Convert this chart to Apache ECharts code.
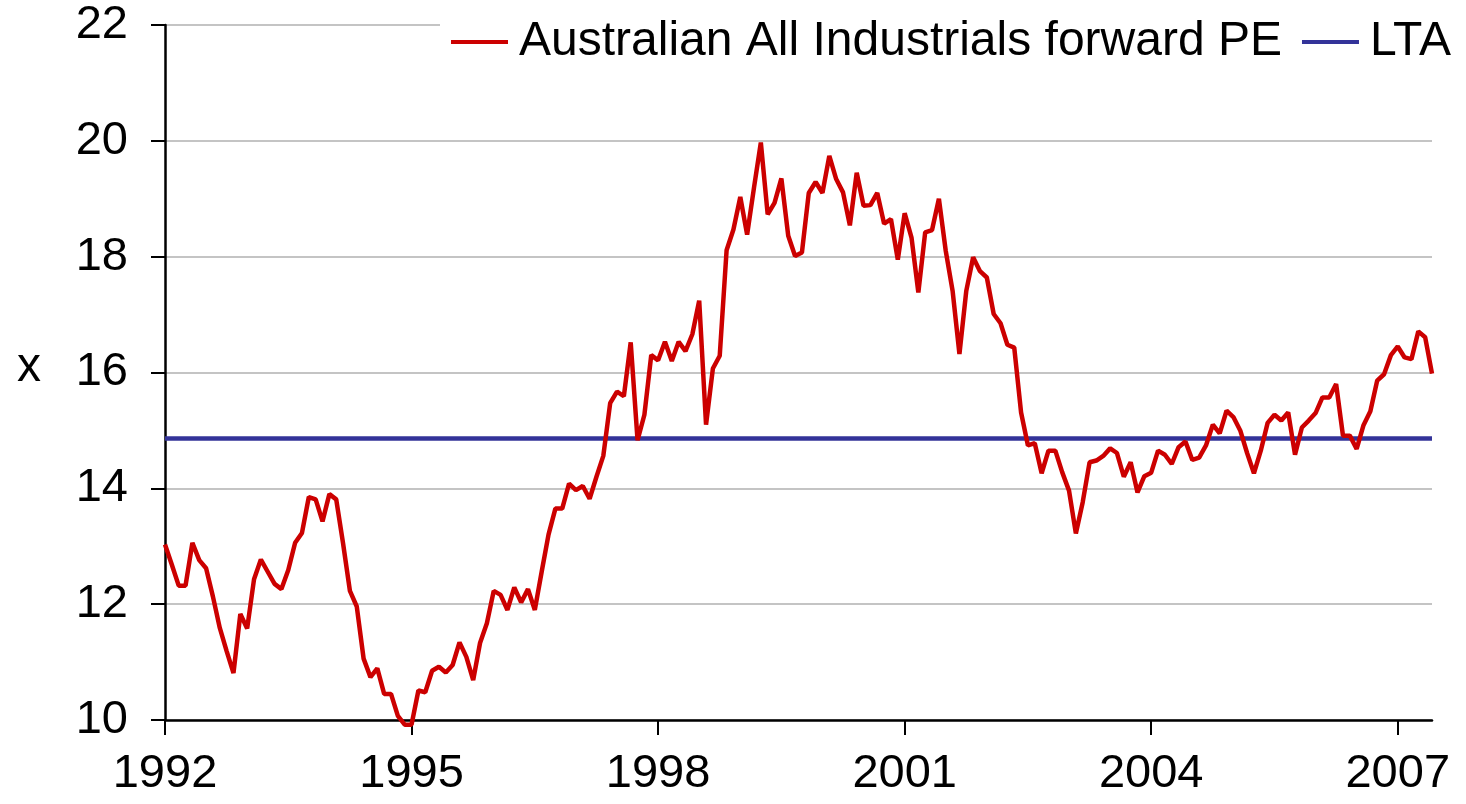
<!DOCTYPE html>
<html style="height: 100%">
   <head>
       <meta charset="utf-8">
       <script src="https://cdn.jsdelivr.net/npm/echarts@6/dist/echarts.min.js"></script>
       <title>Australian All Industrials forward PE</title>
   </head>
   <body style="height: 100%; margin: 0; background: #fff">
       <div id="container" style="width: 1466px; height: 804px"></div>
       <script type="text/javascript">

// monthly readings, Jan 1992 .. Jun 2007
let pe = [
    13.03, 12.68, 12.32, 12.32, 13.06, 12.76, 12.62, 12.13, 11.59, 11.19,
    10.81, 11.83, 11.58, 12.43, 12.77, 12.56, 12.35, 12.26, 12.59, 13.06,
    13.23, 13.85, 13.81, 13.43, 13.90, 13.81, 13.05, 12.23, 11.96, 11.06,
    10.74, 10.89, 10.45, 10.45, 10.07, 9.92, 9.92, 10.51, 10.48, 10.85,
    10.92, 10.82, 10.95, 11.34, 11.09, 10.69, 11.33, 11.67, 12.23, 12.16,
    11.90, 12.29, 12.03, 12.26, 11.90, 12.56, 13.20, 13.65, 13.65, 14.08,
    13.97, 14.04, 13.82, 14.20, 14.56, 15.47, 15.67, 15.59, 16.52, 14.83,
    15.27, 16.30, 16.21, 16.53, 16.20, 16.53, 16.37, 16.66, 17.24, 15.10,
    16.07, 16.29, 18.11, 18.47, 19.03, 18.38, 19.19, 19.97, 18.73, 18.93,
    19.35, 18.36, 18.01, 18.07, 19.10, 19.29, 19.10, 19.74, 19.34, 19.11,
    18.54, 19.45, 18.88, 18.89, 19.10, 18.57, 18.65, 17.95, 18.75, 18.33,
    17.38, 18.42, 18.46, 19.00, 18.10, 17.41, 16.32, 17.41, 17.99, 17.75,
    17.64, 17.01, 16.85, 16.48, 16.43, 15.31, 14.74, 14.78, 14.26, 14.65,
    14.65, 14.28, 13.96, 13.22, 13.76, 14.45, 14.48, 14.56, 14.69, 14.61,
    14.20, 14.45, 13.93, 14.21, 14.27, 14.65, 14.58, 14.42, 14.71, 14.81,
    14.49, 14.53, 14.74, 15.10, 14.95, 15.34, 15.23, 15.00, 14.61, 14.26,
    14.65, 15.13, 15.27, 15.17, 15.31, 14.58, 15.05, 15.17, 15.30, 15.57,
    15.57, 15.80, 14.91, 14.91, 14.68, 15.09, 15.33, 15.86, 15.97, 16.30,
    16.45, 16.26, 16.23, 16.71, 16.61, 15.98
]
let lta = 14.86
let startYear = 1992
let labelYears = [1992, 1995, 1998, 2001, 2004, 2007]

let months = []
for (let i = 0; i < pe.length; i++) {
    let y = startYear + Math.floor(i / 12)
    let m = (i % 12) + 1
    months.push(y + '-' + (m < 10 ? '0' + m : m))
}

function isLabelMonth(index, value) {
    let parts = String(value).split('-')
    return parts[1] === '01' && labelYears.indexOf(Number(parts[0])) >= 0
}

let font = 'Liberation Sans, Arial, sans-serif'
let chart = echarts.init(document.getElementById('container'))
chart.setOption({
    animation: false,
    backgroundColor: '#fff',
    textStyle: { fontFamily: font },
    grid: { left: 165, right: 34, top: 25, bottom: 84 },
    legend: {
        left: 440,
        top: 8,
        padding: [10, 10, 10, 11],
        backgroundColor: '#fff',
        icon: 'rect',
        itemWidth: 57,
        itemHeight: 4,
        itemGap: 20,
        textStyle: { fontSize: 48, color: '#000', fontFamily: font, padding: [0, 0, 0, 6] },
        data: ['Australian All Industrials forward PE', 'LTA']
    },
    graphic: [{
        type: 'text',
        left: 17,
        top: 344,
        style: { text: 'x', font: '48px ' + font, fill: '#000' }
    }],
    xAxis: {
        type: 'category',
        data: months,
        boundaryGap: false,
        axisLine: { lineStyle: { color: '#000', width: 2.5 } },
        axisTick: { interval: isLabelMonth, length: 15, lineStyle: { color: '#000', width: 2 } },
        axisLabel: {
            interval: isLabelMonth,
            formatter: v => v.slice(0, 4),
            fontSize: 47,
            color: '#000',
            margin: 31
        },
        splitLine: { show: false }
    },
    yAxis: {
        type: 'value',
        min: 10,
        max: 22,
        interval: 2,
        axisLine: { show: true, lineStyle: { color: '#000', width: 2.5 } },
        axisTick: { show: true, length: 14, lineStyle: { color: '#000', width: 2 } },
        axisLabel: { fontSize: 47, color: '#000', margin: 37 },
        splitLine: { lineStyle: { color: '#c4c4c4', width: 2 } }
    },
    series: [
        {
            name: 'Australian All Industrials forward PE',
            type: 'line',
            data: pe,
            symbol: 'none',
            clip: false,
            lineStyle: { color: '#cc0000', width: 4.5 },
            itemStyle: { color: '#cc0000' },
            z: 3
        },
        {
            name: 'LTA',
            type: 'line',
            data: [[months[0], lta], [months[months.length - 1], lta]],
            symbol: 'none',
            lineStyle: { color: '#333399', width: 4.5 },
            itemStyle: { color: '#333399' },
            z: 2
        }
    ]
})

       </script>
   </body>
</html>
